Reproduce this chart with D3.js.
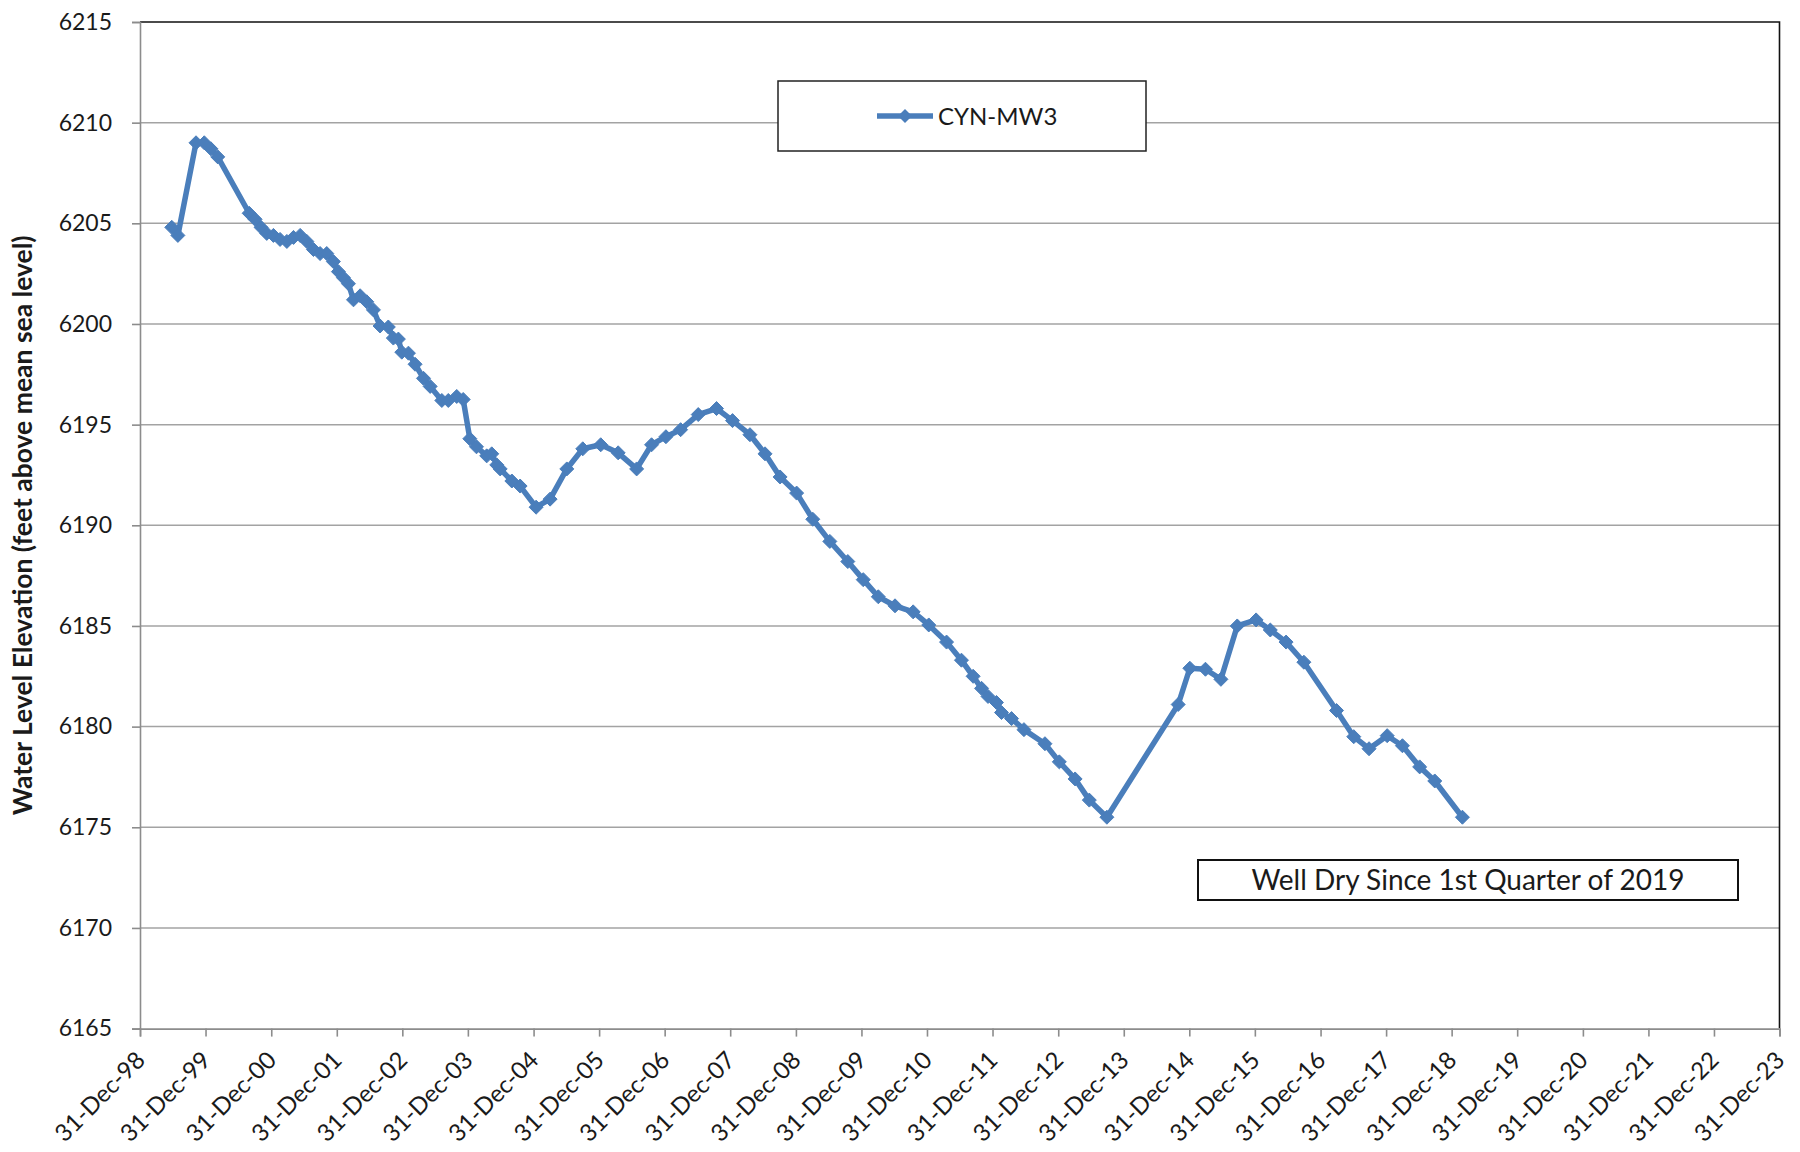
<!DOCTYPE html>
<html>
<head>
<meta charset="utf-8">
<script src="https://cdn.jsdelivr.net/npm/d3@7"></script>
<style>
  html, body { margin: 0; padding: 0; background: #ffffff; }
  svg { display: block; }
  text { font-family: Lato, "Open Sans", "DejaVu Sans", sans-serif; fill: #1a1a1a; }
</style>
</head>
<body>
<svg id="chart" width="1800" height="1152"></svg>
<script>
// Well CYN-MW3 water level measurements (date, elevation in feet above mean sea level)
const seriesName = "CYN-MW3";
const sampleDates = [
  "1999-06-26","1999-07-30","1999-11-08","1999-12-24","2000-01-30","2000-03-08",
  "2000-08-30","2000-10-02","2000-11-04","2000-12-06","2001-01-12","2001-02-18",
  "2001-03-28","2001-05-04","2001-06-10","2001-07-17","2001-08-23","2001-09-29",
  "2001-11-05","2001-12-12","2002-01-09","2002-02-06","2002-03-06","2002-04-03",
  "2002-05-10","2002-06-16","2002-07-23","2002-08-29","2002-10-14","2002-11-11",
  "2002-12-09","2002-12-28","2003-02-03","2003-03-12","2003-04-28","2003-06-04",
  "2003-08-08","2003-09-13","2003-10-30","2003-12-05","2004-01-11","2004-02-17",
  "2004-04-14","2004-05-12","2004-06-09","2004-06-28","2004-09-01","2004-10-17",
  "2005-01-14","2005-04-02","2005-07-04","2005-10-01","2006-01-09","2006-04-16",
  "2006-07-28","2006-10-19","2007-01-07","2007-03-30","2007-07-06","2007-10-16",
  "2008-01-13","2008-04-19","2008-07-12","2008-10-04","2009-01-04","2009-04-04",
  "2009-07-08","2009-10-16","2010-01-10","2010-04-04","2010-07-06","2010-10-15",
  "2011-01-10","2011-04-19","2011-07-11","2011-09-14","2011-10-31","2011-12-06",
  "2012-01-22","2012-02-19","2012-04-15","2012-06-23","2012-10-18","2013-01-06",
  "2013-04-04","2013-06-22","2013-09-28","2014-10-30","2015-01-03","2015-03-31",
  "2015-06-25","2015-09-24","2016-01-07","2016-03-26","2016-06-22","2016-09-29",
  "2017-03-30","2017-07-04","2017-09-27","2018-01-06","2018-04-01","2018-07-06",
  "2018-09-28","2019-03-01"
];
const elevations = [
  6204.8, 6204.4, 6209.0, 6209.0, 6208.7, 6208.3,
  6205.5, 6205.2, 6204.8, 6204.5, 6204.4, 6204.2,
  6204.1, 6204.3, 6204.4, 6204.1, 6203.7, 6203.5,
  6203.5, 6203.1, 6202.6, 6202.3, 6202.0, 6201.2,
  6201.4, 6201.1, 6200.7, 6199.9, 6199.85, 6199.3,
  6199.25, 6198.6, 6198.55, 6198.0, 6197.3, 6196.9,
  6196.2, 6196.2, 6196.4, 6196.25, 6194.3, 6193.9,
  6193.45, 6193.55, 6193.0, 6192.8, 6192.2, 6191.95,
  6190.9, 6191.3, 6192.8, 6193.8, 6194.0, 6193.6,
  6192.8, 6194.0, 6194.4, 6194.75, 6195.5, 6195.8,
  6195.2, 6194.5, 6193.55, 6192.4, 6191.6, 6190.3,
  6189.2, 6188.2, 6187.3, 6186.45, 6186.0, 6185.7,
  6185.05, 6184.2, 6183.3, 6182.5, 6181.9, 6181.5,
  6181.2, 6180.7, 6180.4, 6179.85, 6179.15, 6178.25,
  6177.4, 6176.35, 6175.5, 6181.1, 6182.9, 6182.85,
  6182.35, 6185.0, 6185.3, 6184.8, 6184.2, 6183.2,
  6180.8, 6179.5, 6178.9, 6179.55, 6179.05, 6178.0,
  6177.3, 6175.5
];

// Axis ticks
const yTicks = [6165, 6170, 6175, 6180, 6185, 6190, 6195, 6200, 6205, 6210, 6215];
const xTickYears = d3.range(1998, 2024);   // 31-Dec of each year, 1998..2023
const yAxisTitle = "Water Level Elevation (feet above mean sea level)";
const noteText = "Well Dry Since 1st Quarter of 2019";

const parse = d3.timeParse("%Y-%m-%d");
const data = sampleDates.map((d, i) => ({ date: parse(d), value: elevations[i] }));
const xTickDates = xTickYears.map(y => new Date(y, 11, 31));

const plot = { left: 140, right: 1779.5, top: 22, bottom: 1028.6 };
const blue = "#4a7ebb";

const svg = d3.select("#chart");

const x = d3.scaleTime()
  .domain([xTickDates[0], xTickDates[xTickDates.length - 1]])
  .range([plot.left, plot.right]);
const y = d3.scaleLinear()
  .domain([yTicks[0], yTicks[yTicks.length - 1]])
  .range([plot.bottom, plot.top]);

// horizontal gridlines
svg.append("g")
  .selectAll("line")
  .data(yTicks.slice(1, -1))
  .join("line")
  .attr("x1", plot.left).attr("x2", plot.right)
  .attr("y1", d => y(d)).attr("y2", d => y(d))
  .attr("stroke", "#a3a3a3").attr("stroke-width", 1.5);

// plot frame (top and right edges)
svg.append("path")
  .attr("d", `M${plot.left},${y(yTicks[yTicks.length - 1])}H${plot.right}V${plot.bottom}`)
  .attr("fill", "none").attr("stroke", "#111").attr("stroke-width", 1.6);

// y axis
const yAxis = svg.append("g")
  .attr("transform", `translate(${plot.left},0)`)
  .call(d3.axisLeft(y).tickValues(yTicks).tickSize(8).tickPadding(20).tickFormat(d3.format("d")));
yAxis.select(".domain").attr("stroke", "#8c8c8c").attr("stroke-width", 1.6);
yAxis.selectAll(".tick line").attr("stroke", "#8c8c8c").attr("stroke-width", 1.6);
yAxis.selectAll(".tick text")
  .attr("font-size", 23).attr("fill", "#1a1a1a")
  .style("font-family", "Lato, sans-serif");

// x axis
const xAxis = svg.append("g")
  .attr("transform", `translate(0,${plot.bottom})`)
  .call(d3.axisBottom(x).tickValues(xTickDates).tickSize(8).tickFormat(d3.timeFormat("%d-%b-%y")));
xAxis.select(".domain").attr("stroke", "#8c8c8c").attr("stroke-width", 1.6);
xAxis.selectAll(".tick line").attr("stroke", "#8c8c8c").attr("stroke-width", 1.6);
xAxis.selectAll(".tick text")
  .attr("font-size", 24).attr("fill", "#1a1a1a")
  .style("font-family", "Lato, sans-serif")
  .attr("text-anchor", "end")
  .attr("dy", null).attr("y", null)
  .attr("transform", "translate(6,33) rotate(-45)");

// y axis title
svg.append("text")
  .attr("transform", `translate(32,${(plot.top + plot.bottom) / 2}) rotate(-90)`)
  .attr("text-anchor", "middle")
  .attr("font-size", 26.5).attr("font-weight", "bold")
  .text(yAxisTitle);

// series line and markers
const line = d3.line().x(d => x(d.date)).y(d => y(d.value));
svg.append("path")
  .datum(data)
  .attr("d", line)
  .attr("fill", "none").attr("stroke", blue)
  .attr("stroke-width", 5.5).attr("stroke-linejoin", "round");

const diamond = r => `M0,${-r}L${r},0L0,${r}L${-r},0Z`;
svg.append("g")
  .selectAll("path")
  .data(data)
  .join("path")
  .attr("transform", d => `translate(${x(d.date)},${y(d.value)})`)
  .attr("d", diamond(7))
  .attr("fill", blue).attr("stroke", blue).attr("stroke-width", 1);

// legend
const legend = svg.append("g");
legend.append("rect")
  .attr("x", 778).attr("y", 81).attr("width", 368).attr("height", 70)
  .attr("fill", "#fff").attr("stroke", "#222").attr("stroke-width", 1.5);
legend.append("line")
  .attr("x1", 877).attr("x2", 933).attr("y1", 116).attr("y2", 116)
  .attr("stroke", blue).attr("stroke-width", 5.5);
legend.append("path")
  .attr("transform", "translate(905,116)")
  .attr("d", diamond(7)).attr("fill", blue);
legend.append("text")
  .attr("x", 938).attr("y", 124.5)
  .attr("font-size", 24)
  .text(seriesName);

// note box
const note = svg.append("g");
note.append("rect")
  .attr("x", 1198).attr("y", 860).attr("width", 540).attr("height", 40)
  .attr("fill", "#fff").attr("stroke", "#111").attr("stroke-width", 2);
note.append("text")
  .attr("x", 1468).attr("y", 890)
  .attr("text-anchor", "middle")
  .attr("font-size", 28)
  .text(noteText);
</script>
</body>
</html>
